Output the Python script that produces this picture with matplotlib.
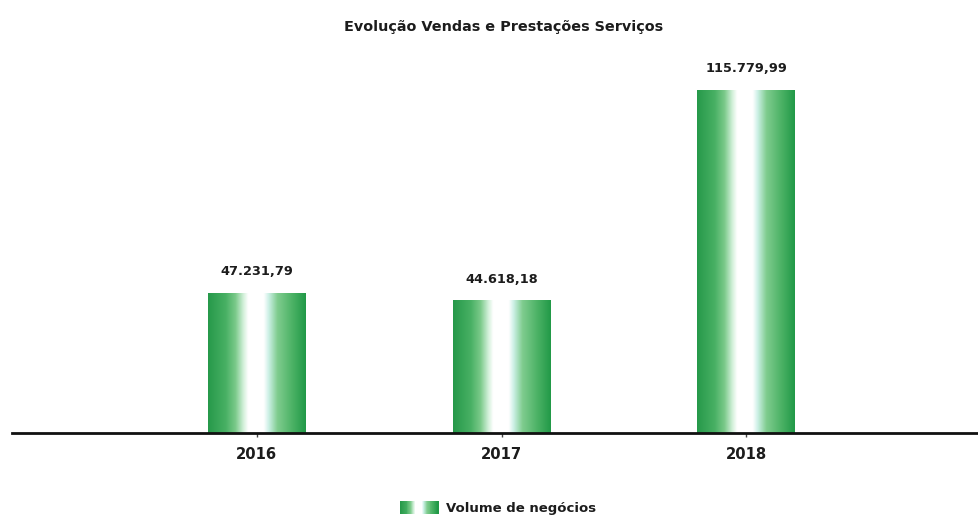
import numpy as np
import matplotlib
matplotlib.use("Agg")
import matplotlib.pyplot as plt
from matplotlib.colors import LinearSegmentedColormap
from matplotlib.legend_handler import HandlerBase
from matplotlib.patches import Rectangle

# Data
anos = ["2016", "2017", "2018"]
volume_negocios = [47231.79, 44618.18, 115779.99]
titulo = "Evolução Vendas e Prestações Serviços"
legenda = "Volume de negócios"

plt.rcParams["font.family"] = ["DejaVu Sans"]
TXT = "#1c1c1c"

# Horizontal gradient used to fill each bar (green edges, white core)
grad = LinearSegmentedColormap.from_list(
    "verde",
    [
        (0.00, (0.15, 0.60, 0.29)),
        (0.18, (0.28, 0.69, 0.39)),
        (0.28, (0.48, 0.79, 0.54)),
        (0.36, (0.82, 0.94, 0.85)),
        (0.41, (1.00, 1.00, 1.00)),
        (0.57, (1.00, 1.00, 1.00)),
        (0.62, (0.80, 0.94, 0.90)),
        (0.71, (0.50, 0.80, 0.56)),
        (0.86, (0.30, 0.70, 0.40)),
        (1.00, (0.13, 0.60, 0.28)),
    ],
)


def fmt_pt(v):
    s = f"{v:,.2f}"
    return s.replace(",", "X").replace(".", ",").replace("X", ".")


W, H = 979, 519
fig = plt.figure(figsize=(W / 100, H / 100), dpi=100)
ax = fig.add_axes([12 / W, 1 - 433 / H, 1 - 12 / W, 373 / H])

x = np.arange(len(anos))
bars = ax.bar(x, volume_negocios, width=0.4, facecolor="none", edgecolor="none", zorder=2)

strip = np.linspace(0, 1, 256).reshape(1, -1)
for b, v in zip(bars, volume_negocios):
    x0, w, h = b.get_x(), b.get_width(), b.get_height()
    ax.imshow(strip, cmap=grad, aspect="auto", extent=(x0, x0 + w, 0, h),
              interpolation="bilinear", zorder=2)
    ax.annotate(fmt_pt(v), (x0 + w / 2, h), xytext=(0, 11), textcoords="offset points",
                ha="center", va="bottom", fontsize=9.3, fontweight="bold", color=TXT)

ax.set_xlim(-1.0, 2.95)
ax.set_ylim(0, 126000)
ax.set_xticks(x)
ax.set_xticklabels(anos, fontsize=10.6, fontweight="bold", color=TXT)
ax.tick_params(axis="x", length=3, width=1, color="#444444", pad=7)
ax.set_yticks([])
for side in ("top", "right", "left"):
    ax.spines[side].set_visible(False)
ax.spines["bottom"].set_linewidth(2)
ax.spines["bottom"].set_color("#111111")
ax.spines["bottom"].set_zorder(3)
ax.patch.set_alpha(0)

fig.text(504 / W, 1 - 27 / H, titulo, ha="center", va="center",
         fontsize=10.4, fontweight="bold", color=TXT)


class GradientSwatch(HandlerBase):
    def create_artists(self, legend, orig_handle, xdescent, ydescent, width,
                       height, fontsize, trans):
        n = 40
        arts = []
        for i, t in enumerate(np.linspace(0, 1, n)):
            r = Rectangle((-xdescent + i * width / n, -ydescent), width / n + 0.3, height,
                          facecolor=grad(t), edgecolor="none", transform=trans)
            arts.append(r)
        return arts


handle = Rectangle((0, 0), 1, 1)
fig.legend([handle], [legenda], handler_map={Rectangle: GradientSwatch()},
           loc="center", bbox_to_anchor=(498 / W, 1 - 508 / H), frameon=False,
           prop={"size": 9.5, "weight": "bold"}, handlelength=2.9, handleheight=1.1,
           handletextpad=0.6, labelcolor=TXT)

fig.savefig("out.png", dpi=100, facecolor="white")
